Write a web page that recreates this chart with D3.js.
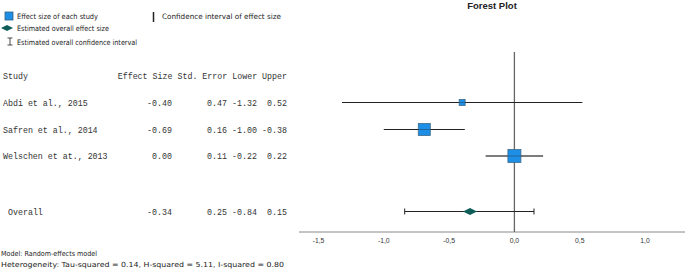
<!DOCTYPE html>
<html lang="en">
<head>
    <meta charset="UTF-8" />
    <title>Forest Plot</title>
    <script src="https://cdn.jsdelivr.net/npm/d3@7"></script>
    <style type="text/css">
        body { margin: 0; background: #fff; }
        .mono { font-family: "Liberation Mono", "DejaVu Sans Mono", monospace; font-size: 8.3px; fill: #333; }
        .sans { font-family: "Liberation Sans", Arial, sans-serif; fill: #222; }
        .wide { font-family: "DejaVu Sans", Verdana, sans-serif; fill: #222; }
    </style>
</head>
<body>
    <svg id="chart" width="685" height="269"></svg>
    <script type="text/javascript">
        // data
        const studies = ["Abdi et al., 2015", "Safren et al., 2014", "Welschen et at., 2013"];
        const effects = [-0.40, -0.69, 0.00];
        const stdErrors = [0.47, 0.16, 0.11];
        const lowers = [-1.32, -1.00, -0.22];
        const uppers = [0.52, -0.38, 0.22];
        const weights = [6, 12, 13]; // marker size
        const overall = { label: "Overall", effect: -0.34, se: 0.25, lower: -0.84, upper: 0.15 };
        const xTicks = [-1.5, -1.0, -0.5, 0.0, 0.5, 1.0];
        const headers = ["Effect Size", "Std. Error", "Lower", "Upper"];

        const svg = d3.select("#chart");

        const x = d3.scaleLinear().domain([-1.5, 1.0]).range([318.5, 645]);
        const rowY = { "hdr": 76, [studies[0]]: 102.5, [studies[1]]: 129.5, [studies[2]]: 156, [overall.label]: 211.5 };

        // title
        svg.append("text").attr("class", "sans")
            .attr("x", 492).attr("y", 8.5)
            .attr("text-anchor", "middle")
            .style("font-size", "9.5px").style("font-weight", "bold")
            .text("Forest Plot");

        // legend
        const lg = svg.append("g").attr("class", "wide").style("font-size", "7.4px");
        const lgText = (xx, yy, t, len) => lg.append("text").attr("x", xx).attr("y", yy)
            .attr("textLength", len).attr("lengthAdjust", "spacingAndGlyphs").text(t);
        lg.append("rect").attr("x", 5).attr("y", 12).attr("width", 8).attr("height", 8)
            .attr("fill", "#1e8fe6").attr("stroke", "#35607f").attr("stroke-width", 0.8);
        lgText(17, 18.8, "Effect size of each study", 81);
        lg.append("path").attr("d", "M1,28 L7,25 L13,28 L7,31 Z").attr("fill", "#0f5e57");
        lgText(17, 30.8, "Estimated overall effect size", 92);
        lg.append("path").attr("d", "M7.5,38 H12.5 M10,38 V45 M7.5,45 H12.5")
            .attr("stroke", "#222").attr("stroke-width", 0.8).attr("fill", "none");
        lgText(17, 44.8, "Estimated overall confidence interval", 120);
        lg.append("line").attr("x1", 153.5).attr("x2", 153.5).attr("y1", 12).attr("y2", 22)
            .attr("stroke", "#222").attr("stroke-width", 1.5);
        lgText(162, 18.8, "Confidence interval of effect size", 119);

        // table (monospace columns, right aligned under the header words)
        const colRight = [172, 227, 257, 287];
        const tbl = svg.append("g").attr("class", "mono");
        tbl.append("text").attr("x", 3).attr("y", rowY.hdr + 3).text("Study");
        tbl.append("text").attr("x", 287).attr("y", rowY.hdr + 3).attr("text-anchor", "end")
            .attr("xml:space", "preserve").text(headers.join(" "));

        const rows = studies.map((s, i) => ({
            name: s, vals: [effects[i], stdErrors[i], lowers[i], uppers[i]], indent: 3
        }));
        rows.push({ name: overall.label, vals: [overall.effect, overall.se, overall.lower, overall.upper], indent: 8 });

        rows.forEach(r => {
            const g = tbl.append("g");
            g.append("text").attr("x", r.indent).attr("y", rowY[r.name] + 3).text(r.name);
            g.selectAll("text.v").data(r.vals).join("text").attr("class", "v")
                .attr("x", (d, i) => colRight[i]).attr("y", rowY[r.name] + 3)
                .attr("text-anchor", "end")
                .text(d => d.toFixed(2));
        });

        // x axis
        const axisY = 232;
        svg.append("line").attr("x1", 299).attr("x2", 685).attr("y1", axisY).attr("y2", axisY)
            .attr("stroke", "#8a8a8a").attr("stroke-width", 1);
        svg.append("g").attr("class", "sans").style("font-size", "6.8px").style("fill", "#333")
            .selectAll("text").data(xTicks).join("text")
            .attr("x", d => x(d)).attr("y", axisY + 10.5)
            .attr("text-anchor", "middle")
            .text(d => d3.format(".1f")(d).replace(".", ",").replace("−", "-"));

        // reference line at 0
        svg.append("line").attr("x1", x(0)).attr("x2", x(0)).attr("y1", 52).attr("y2", axisY)
            .attr("stroke", "#666").attr("stroke-width", 1.3);

        // study CIs and squares
        studies.forEach((s, i) => {
            svg.append("line").attr("x1", x(lowers[i])).attr("x2", x(uppers[i]))
                .attr("y1", rowY[s]).attr("y2", rowY[s])
                .attr("stroke", "#222").attr("stroke-width", 1);
            const w = weights[i];
            svg.append("rect").attr("x", x(effects[i]) - w / 2).attr("y", rowY[s] - w / 2)
                .attr("width", w).attr("height", w)
                .attr("fill", "#1e8fe6").attr("stroke", "#3d6a8a").attr("stroke-width", 0.8);
            svg.append("line").attr("x1", x(lowers[i])).attr("x2", x(uppers[i]))
                .attr("y1", rowY[s]).attr("y2", rowY[s])
                .attr("stroke", "#222").attr("stroke-width", 0.6).attr("opacity", 0.6);
        });

        // overall CI with caps and diamond
        const oy = rowY[overall.label];
        svg.append("path")
            .attr("d", `M${x(overall.lower)},${oy - 3} V${oy + 3} M${x(overall.lower)},${oy} H${x(overall.upper)} M${x(overall.upper)},${oy - 3} V${oy + 3}`)
            .attr("stroke", "#222").attr("stroke-width", 1).attr("fill", "none");
        const cx = x(overall.effect);
        svg.append("path").attr("d", `M${cx - 7},${oy} L${cx},${oy - 3.5} L${cx + 7},${oy} L${cx},${oy + 3.5} Z`)
            .attr("fill", "#0f5e57");

        // footnote
        const ft = svg.append("g").attr("class", "wide").style("font-size", "7px");
        ft.append("text").attr("x", 1).attr("y", 256)
            .attr("textLength", 96).attr("lengthAdjust", "spacingAndGlyphs")
            .text("Model: Random-effects model");
        ft.append("text").attr("x", 1).attr("y", 266.5)
            .attr("textLength", 283).attr("lengthAdjust", "spacingAndGlyphs")
            .text("Heterogeneity: Tau-squared = 0.14, H-squared = 5.11, I-squared = 0.80");
    </script>
</body>
</html>
